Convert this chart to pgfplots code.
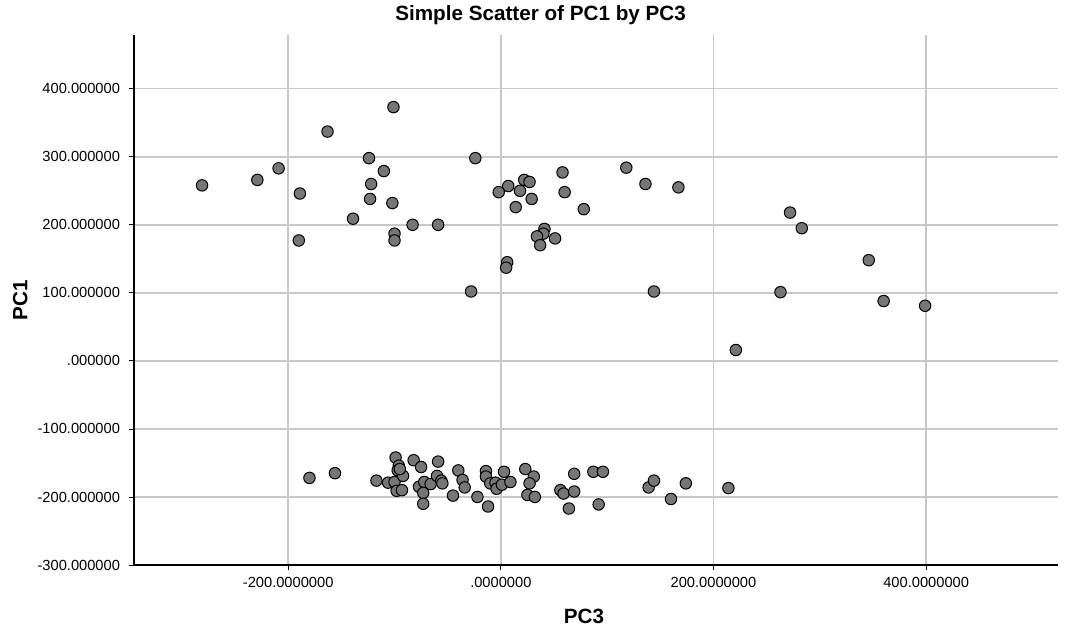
\documentclass[border=0pt]{standalone}
\usepackage{fontspec}
\setmainfont{Liberation Sans}
\usepackage{pgfplots}
\pgfplotsset{compat=1.18}
\usetikzlibrary{calc}

\definecolor{dotfill}{RGB}{118,118,118}
\definecolor{gridgray}{RGB}{200,200,200}

\begin{document}
\begin{tikzpicture}
\begin{axis}[
  scale only axis,
  width=693pt, height=397.5pt,
  xmin=-345, xmax=524,
  ymin=-300, ymax=479,
  axis x line*=bottom, axis y line*=left,
  axis line style={-, black, line width=0.8pt},
  xtick={-200,0,200,400},
  xticklabels={-200.0000000,.0000000,200.0000000,400.0000000},
  ytick={-300,-200,-100,0,100,200,300,400},
  yticklabels={-300.000000,-200.000000,-100.000000,.000000,100.000000,200.000000,300.000000,400.000000},
  tick align=outside,
  major tick length=4pt,
  tick style={black, line width=0.6pt},
  ticklabel style={font=\fontsize{11}{13}\selectfont},
  xticklabel style={anchor=base, yshift=-13pt},
  yticklabel style={anchor=east, xshift=-3pt},
  grid=major,
  major grid style={gridgray, line width=1.1pt},
  title={Simple Scatter of PC1 by PC3},
  title style={at={(axis description cs:0.44,1.012)}, anchor=base, font=\fontsize{15.5}{18}\selectfont\bfseries},
  xlabel={PC3},
  xlabel style={at={(axis description cs:0.487,-0.111)}, anchor=base, font=\fontsize{15.5}{18}\selectfont\bfseries},
  ylabel={PC1},
  ylabel style={at={(axis description cs:-0.123,0.5)}, anchor=center, rotate=0, font=\fontsize{15.5}{18}\selectfont\bfseries},
]
\addplot[only marks, mark=*, mark size=4.3pt,
  mark options={fill=dotfill, draw=black, line width=0.75pt}]
coordinates {
(-101,373) (-163,337) (-124,298) (-110,279) (-209,283) (-229,266) (-281,258)
(-189,246) (-122,260) (-123,238) (-102,232) (-139,209) (-83,200) (-59,200)
(-100,187) (-100,177) (-190,177) (-24,298) (58,277) (118,284) (136,260)
(167,255) (22,266) (27,263) (7,257) (-2,248) (18,250) (29,238) (60,248)
(14,226) (78,223) (41,194) (40,187) (34,183) (51,180) (37,170) (6,145)
(5,137) (-28,102) (144,102) (272,218) (283,195) (346,148) (263,101)
(360,88) (399,81) (221,16)
(-180,-172) (-156,-165) (-117,-176) (-106,-179) (-100,-178) (-99,-142)
(-96,-154) (-97,-161) (-92,-169) (-95,-159) (-98,-191) (-93,-190)
(-82,-146) (-75,-156) (-59,-148) (-77,-185) (-72,-178) (-73,-194)
(-73,-210) (-66,-181) (-60,-169) (-56,-176) (-55,-180) (-45,-198)
(-40,-161) (-36,-175) (-34,-186) (-22,-200) (-12,-214) (-14,-162)
(-14,-170) (-10,-180) (-5,-179) (-4,-188) (1,-182) (3,-163) (9,-178)
(23,-159) (31,-170) (27,-180) (25,-197) (32,-200) (56,-190) (59,-195)
(69,-166) (69,-192) (64,-217) (87,-163) (96,-163) (92,-211) (139,-186)
(144,-176) (160,-203) (174,-180) (214,-187)
};
\end{axis}
\pgfresetboundingbox
\path ($(current axis.south west)+(-100.5pt,-48.75pt)$) rectangle ($(current axis.north east)+(9pt,26.25pt)$);
\end{tikzpicture}
\end{document}
